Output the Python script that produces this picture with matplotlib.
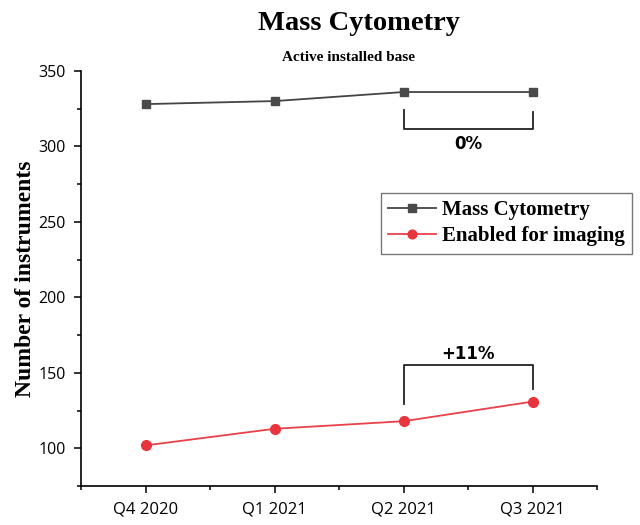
import numpy as np
import matplotlib
matplotlib.use('Agg')
import matplotlib.pyplot as plt
from matplotlib.ticker import MultipleLocator

# data
quarters = ['Q4 2020', 'Q1 2021', 'Q2 2021', 'Q3 2021']
mass_cyto = [328, 330, 336, 336]
imaging = [102, 113, 118, 131]

serif = 'Liberation Serif'
sans = 'Open Sans'

fig = plt.figure(figsize=(6.4, 5.25), dpi=100)
fig.patch.set_facecolor('white')
ax = fig.add_axes([0.127, 0.074, 0.806, 0.791])

x = np.arange(len(quarters))
l1, = ax.plot(x, mass_cyto, color='#444444', lw=1.3, marker='s', ms=6,
              mfc='#4a4a4a', mec='#4a4a4a', label='Mass Cytometry')
l2, = ax.plot(x, imaging, color='#e8414a', lw=1.3, marker='o', ms=7,
              mfc='#e8343c', mec='#e8343c', label='Enabled for imaging')

ax.set_xlim(-0.5, 3.5)
ax.set_ylim(75, 350)
ax.set_xticks(x)
ax.set_xticklabels(quarters, fontfamily=sans, fontsize=12)
ax.xaxis.set_minor_locator(MultipleLocator(0.5))
ax.yaxis.set_major_locator(MultipleLocator(50))
ax.yaxis.set_minor_locator(MultipleLocator(25))
for lab in ax.get_yticklabels():
    lab.set_fontfamily(sans)
    lab.set_fontsize(11.5)
ax.tick_params(which='major', length=5, width=1.1, direction='out', pad=6)
ax.tick_params(which='minor', length=3, width=1.1, direction='out')
ax.tick_params(axis='x', which='major', pad=6)
for s in ['top', 'right']:
    ax.spines[s].set_visible(False)
for s in ['left', 'bottom']:
    ax.spines[s].set_linewidth(1.2)

ax.set_ylabel('Number of instruments', fontfamily=serif, fontweight='bold',
              fontsize=17, labelpad=2)

# brackets
ax.plot([2, 2, 3, 3], [324, 311.5, 311.5, 323], color='#222222', lw=1.3)
ax.text(2.5, 301.5, '0%', ha='center', va='center', fontfamily='DejaVu Sans',
        fontweight='bold', fontsize=12)
ax.plot([2, 2, 3, 3], [129.5, 155, 155, 139.5], color='#222222', lw=1.3)
ax.text(2.5, 162.5, '+11%', ha='center', va='center', fontfamily='DejaVu Sans',
        fontweight='bold', fontsize=12)

fig.text(0.561, 0.955, 'Mass Cytometry', ha='center', va='center',
         fontfamily=serif, fontweight='bold', fontsize=20.5)
fig.text(0.545, 0.891, 'Active installed base', ha='center', va='center',
         fontfamily=serif, fontweight='bold', fontsize=11)

leg = fig.legend(handles=[l1, l2], loc='upper left',
                 bbox_to_anchor=(0.595, 0.633), frameon=True, fancybox=False,
                 prop={'family': serif, 'weight': 'bold', 'size': 15},
                 handlelength=2.3, handletextpad=0.3, borderpad=0.35,
                 labelspacing=0.3, borderaxespad=0, markerscale=0.9)
leg.get_frame().set_edgecolor('#555555')
leg.get_frame().set_linewidth(1.0)

fig.savefig('out.png', dpi=100)
